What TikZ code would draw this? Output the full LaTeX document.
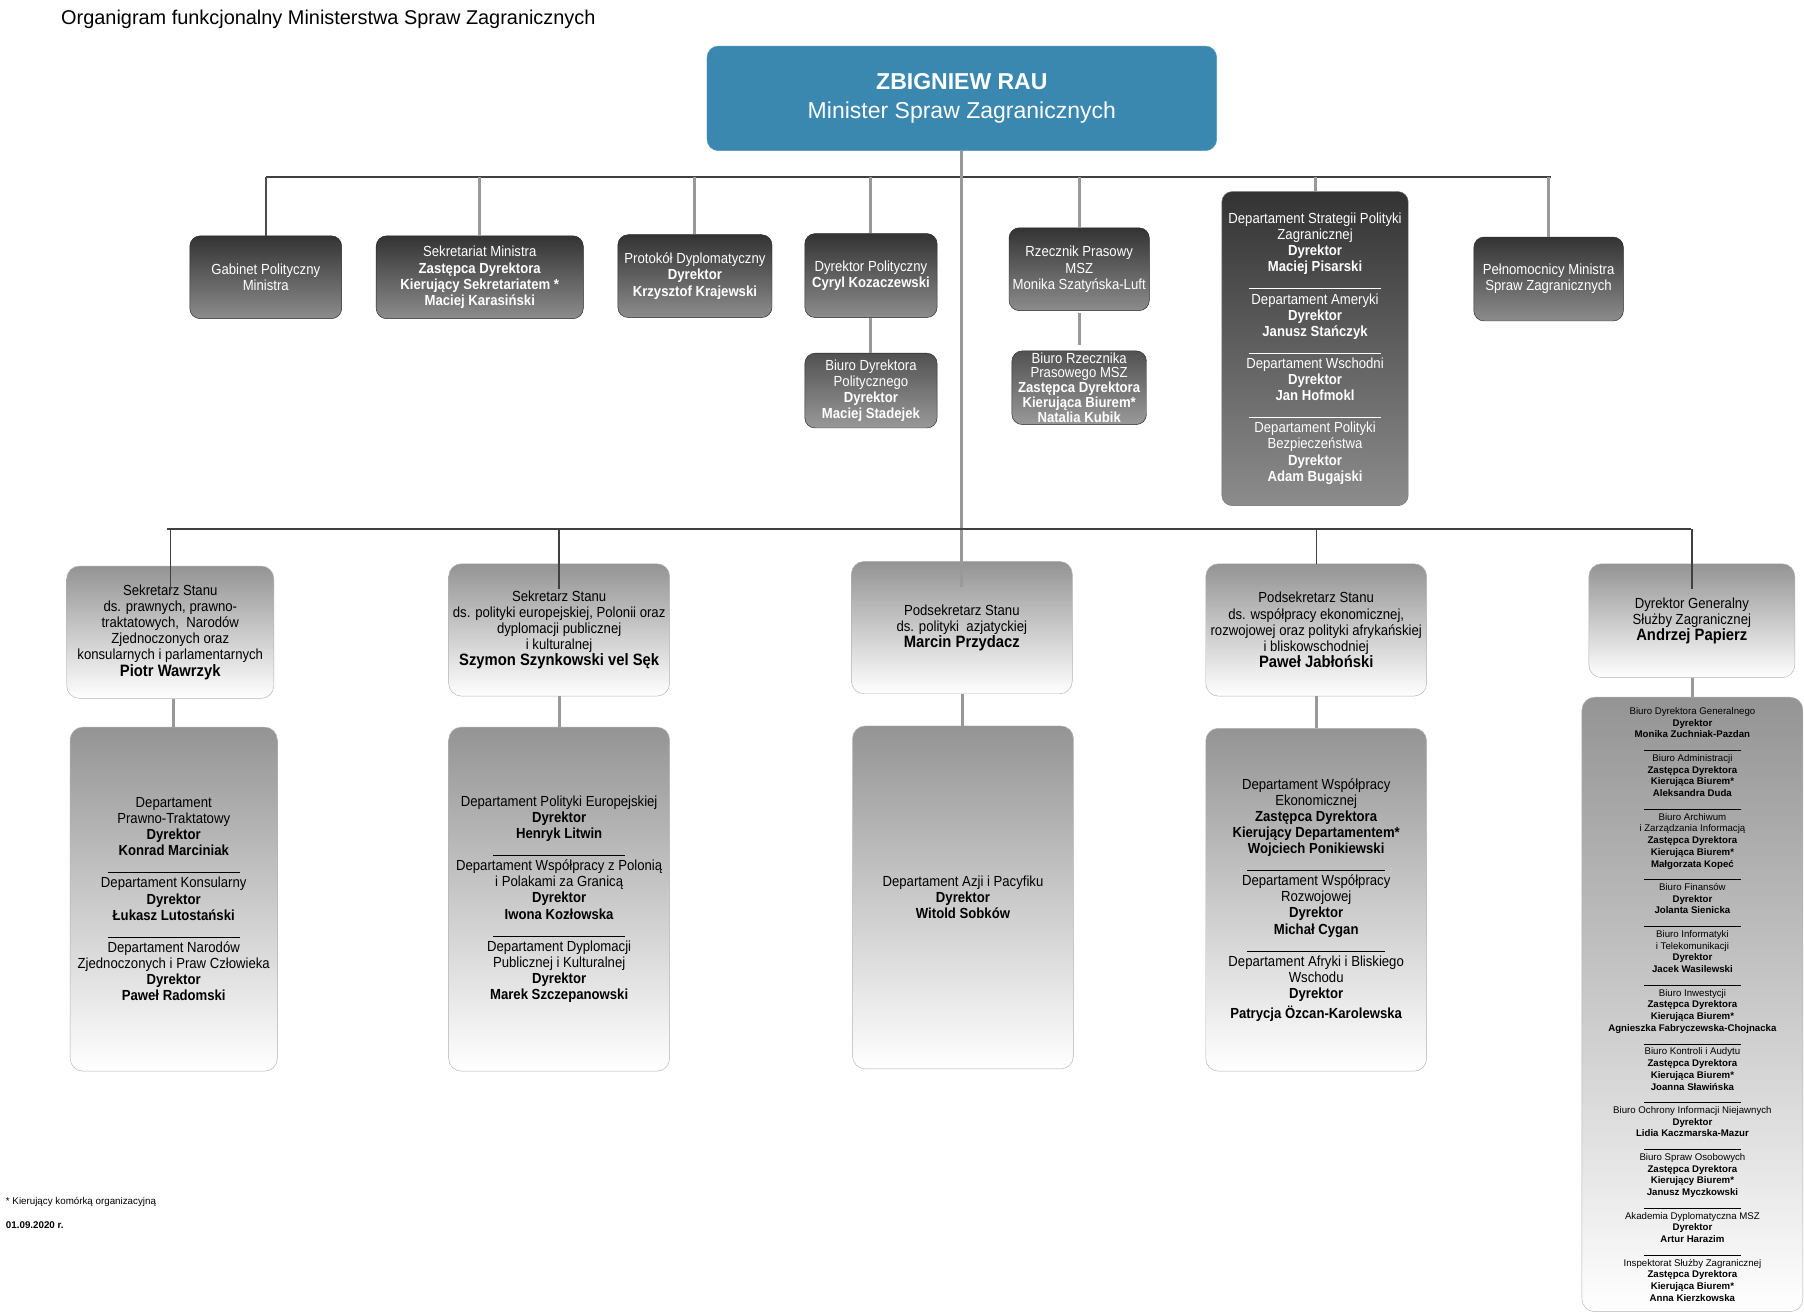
\documentclass[tikz,border=0pt]{standalone}
\usepackage{fontspec}
\setmainfont{Liberation Sans}
\newfontfamily\boxfont{Liberation Sans}[FakeStretch=0.9]
\definecolor{ministerblue}{HTML}{3A87B0}
\newcommand{\strich}[1][115pt]{\rule[-1pt]{#1}{0.6pt}}
\newcommand{\kopf}[1]{{\fontsize{14.3}{15}\selectfont\bfseries #1}}
\tikzset{
  minbox/.style={fill=ministerblue, draw=ministerblue!85!white, rounded corners=10pt, text=white, align=center, font=\fontsize{20}{25}\selectfont},
  topbox/.style={draw=black!85, rounded corners=9pt, top color=black!80, bottom color=black!45, text=white, align=center, inner sep=1pt, font=\boxfont\fontsize{12.7}{14}\selectfont},
  subbox/.style={topbox, top color=black!68, bottom color=black!40},
  headbox/.style={draw=black!30, rounded corners=11pt, top color=black!42, bottom color=white, text=black, align=center, inner sep=1pt, font=\boxfont\fontsize{12.7}{14}\selectfont},
  smallbox/.style={headbox, font=\fontsize{8.4}{10.2}\selectfont},
  bus/.style={draw=black!75, line width=1.6pt},
  stem/.style={draw=black!40, line width=2.6pt},
  darkstem/.style={draw=black!70, line width=2pt},
  thinstem/.style={draw=black!75, line width=1.2pt}
}
\begin{document}
\begin{tikzpicture}[x=1pt,y=-1pt]
  % 画像の範囲
  \useasboundingbox (0,0) rectangle (1568,1143);
  % 表題
  \node[anchor=base west, inner sep=0pt, font=\fontsize{17.3}{20}\selectfont] (titel) at (53,21) {Organigram funkcjonalny Ministerstwa Spraw Zagranicznych};
  % 大臣
  \node[minbox, minimum width=443pt, minimum height=91pt] (minister) at (836,85.5) {\textbf{ZBIGNIEW RAU}\\Minister Spraw Zagranicznych};
  % 上段の部署
  \node[topbox, minimum width=132pt, minimum height=72pt] (gabinet) at (231,241) {Gabinet Polityczny\\Ministra};
  \node[topbox, minimum width=180pt, minimum height=72pt] (sekretariat) at (417,241) {Sekretariat Ministra\\\textbf{Zastępca Dyrektora}\\\textbf{Kierujący Sekretariatem *}\\\textbf{Maciej Karasiński}};
  \node[topbox, minimum width=134pt, minimum height=72pt] (protokol) at (604,240) {Protokół Dyplomatyczny\\\textbf{Dyrektor}\\\textbf{Krzysztof Krajewski}};
  \node[topbox, minimum width=115pt, minimum height=73pt] (dyrpol) at (757,239.5) {Dyrektor Polityczny\\\textbf{Cyryl Kozaczewski}};
  \node[subbox, minimum width=115pt, minimum height=65pt] (biurodyrpol) at (757,339.5) {Biuro Dyrektora\\Politycznego\\\textbf{Dyrektor}\\\textbf{Maciej Stadejek}};
  \node[topbox, minimum width=122pt, minimum height=72pt] (rzecznik) at (938,234) {Rzecznik Prasowy\\MSZ\\Monika Szatyńska-Luft};
  \node[subbox, minimum width=117pt, minimum height=64pt, inner sep=0pt, font=\boxfont\fontsize{12.7}{13}\selectfont] (biurorzecznik) at (938,337) {Biuro Rzecznika\\Prasowego MSZ\\\textbf{Zastępca Dyrektora}\\\textbf{Kierująca Biurem*}\\\textbf{Natalia Kubik}};
  \node[topbox, draw=black!55, minimum width=162pt, minimum height=273pt] (strategia) at (1143,303) {Departament Strategii Polityki\\Zagranicznej\\\textbf{Dyrektor}\\\textbf{Maciej Pisarski}\\\strich\\Departament Ameryki\\\textbf{Dyrektor}\\\textbf{Janusz Stańczyk}\\\strich\\Departament Wschodni\\\textbf{Dyrektor}\\\textbf{Jan Hofmokl}\\\strich\\Departament Polityki\\Bezpieczeństwa\\\textbf{Dyrektor}\\\textbf{Adam Bugajski}};
  \node[topbox, minimum width=130pt, minimum height=73pt] (pelnomocnicy) at (1346,242.5) {Pełnomocnicy Ministra\\Spraw Zagranicznych};
  % 下段の長
  \node[headbox, minimum width=180pt, minimum height=115pt] (ss1) at (148,549.5) {Sekretarz Stanu\\ds. prawnych, prawno-\\traktatowych,\ \ Narodów\\Zjednoczonych oraz\\konsularnych i parlamentarnych\\\kopf{Piotr Wawrzyk}};
  \node[headbox, minimum width=192pt, minimum height=115pt] (ss2) at (486,547.5) {Sekretarz Stanu\\ds. polityki europejskiej, Polonii oraz\\dyplomacji publicznej\\i kulturalnej\\\kopf{Szymon Szynkowski vel Sęk}};
  \node[headbox, minimum width=192pt, minimum height=115pt] (ps1) at (836,545.5) {Podsekretarz Stanu\\ds. polityki\ \ azjatyckiej\\\kopf{Marcin Przydacz}};
  \node[headbox, minimum width=192pt, minimum height=115pt] (ps2) at (1144,547.5) {Podsekretarz Stanu\\ds. współpracy ekonomicznej,\\rozwojowej oraz polityki afrykańskiej\\i bliskowschodniej\\\kopf{Paweł Jabłoński}};
  \node[headbox, minimum width=179pt, minimum height=99pt] (dg) at (1470.5,539.5) {Dyrektor Generalny\\Służby Zagranicznej\\\kopf{Andrzej Papierz}};
  % 下段の部署
  \node[headbox, minimum width=180pt, minimum height=299pt] (dep1) at (151,781.5) {Departament\\Prawno-Traktatowy\\\textbf{Dyrektor}\\\textbf{Konrad Marciniak}\\\strich\\Departament Konsularny\\\textbf{Dyrektor}\\\textbf{Łukasz Lutostański}\\\strich\\Departament Narodów\\Zjednoczonych i Praw Człowieka\\\textbf{Dyrektor}\\\textbf{Paweł Radomski}};
  \node[headbox, minimum width=192pt, minimum height=299pt] (dep2) at (486,781.5) {Departament Polityki Europejskiej\\\textbf{Dyrektor}\\\textbf{Henryk Litwin}\\\strich\\Departament Współpracy z Polonią\\i Polakami za Granicą\\\textbf{Dyrektor}\\\textbf{Iwona Kozłowska}\\\strich\\Departament Dyplomacji\\Publicznej i Kulturalnej\\\textbf{Dyrektor}\\\textbf{Marek Szczepanowski}};
  \node[headbox, minimum width=192pt, minimum height=298pt] (dep3) at (837,780) {Departament Azji i Pacyfiku\\\textbf{Dyrektor}\\\textbf{Witold Sobków}};
  \node[headbox, minimum width=192pt, minimum height=298pt] (dep4) at (1144,782) {Departament Współpracy\\Ekonomicznej\\\textbf{Zastępca Dyrektora}\\\textbf{Kierujący Departamentem*}\\\textbf{Wojciech Ponikiewski}\\\strich[120pt]\\Departament Współpracy\\Rozwojowej\\\textbf{Dyrektor}\\\textbf{Michał Cygan}\\\strich[120pt]\\Departament Afryki i Bliskiego\\Wschodu\\\textbf{Dyrektor}\\[3pt]\textbf{Patrycja Özcan-Karolewska}};
  \node[smallbox, minimum width=192pt, minimum height=534pt] (dep5) at (1471,873) {Biuro Dyrektora Generalnego\\\textbf{Dyrektor}\\\textbf{Monika Zuchniak-Pazdan}\\\strich[84pt]\\Biuro Administracji\\\textbf{Zastępca Dyrektora}\\\textbf{Kierująca Biurem*}\\\textbf{Aleksandra Duda}\\\strich[84pt]\\Biuro Archiwum\\i Zarządzania Informacją\\\textbf{Zastępca Dyrektora}\\\textbf{Kierująca Biurem*}\\\textbf{Małgorzata Kopeć}\\\strich[84pt]\\Biuro Finansów\\\textbf{Dyrektor}\\\textbf{Jolanta Sienicka}\\\strich[84pt]\\Biuro Informatyki\\i Telekomunikacji\\\textbf{Dyrektor}\\\textbf{Jacek Wasilewski}\\\strich[84pt]\\Biuro Inwestycji\\\textbf{Zastępca Dyrektora}\\\textbf{Kierująca Biurem*}\\\textbf{Agnieszka Fabryczewska-Chojnacka}\\\strich[84pt]\\Biuro Kontroli i Audytu\\\textbf{Zastępca Dyrektora}\\\textbf{Kierująca Biurem*}\\\textbf{Joanna Sławińska}\\\strich[84pt]\\Biuro Ochrony Informacji Niejawnych\\\textbf{Dyrektor}\\\textbf{Lidia Kaczmarska-Mazur}\\\strich[84pt]\\Biuro Spraw Osobowych\\\textbf{Zastępca Dyrektora}\\\textbf{Kierujący Biurem*}\\\textbf{Janusz Myczkowski}\\\strich[84pt]\\Akademia Dyplomatyczna MSZ\\\textbf{Dyrektor}\\\textbf{Artur Harazim}\\\strich[84pt]\\Inspektorat Służby Zagranicznej\\\textbf{Zastępca Dyrektora}\\\textbf{Kierująca Biurem*}\\\textbf{Anna Kierzkowska}};
  % 上の横線と縦線
  \coordinate (busL) at (231,154);
  \coordinate (busR) at (1348,154);
  \draw[bus] (busL) -- (busR);
  \draw[darkstem] (gabinet.north |- busL) -- (gabinet.north);
  \foreach \n in {sekretariat,protokol,dyrpol,rzecznik,strategia,pelnomocnicy}
    \draw[stem] (\n.north |- busL) -- (\n.north);
  \draw[stem] (dyrpol.south) -- (biurodyrpol.north);
  \draw[stem, shorten <=2pt, shorten >=5pt] (rzecznik.south) -- (biurorzecznik.north);
  % 中央の縦線
  \draw[stem] (minister.south) -- ([yshift=-22pt]ps1.north);
  % 下の横線と縦線
  \coordinate (lbusL) at (145,460);
  \coordinate (lbusR) at (1470,460);
  \draw[bus, line width=1.3pt] (lbusL) -- (lbusR);
  \foreach \n in {ss1,ss2,dg}
    \draw[thinstem] (\n.north |- lbusL) -- ([yshift=-22pt]\n.north);
  \draw[thinstem] (ps2.north |- lbusL) -- (ps2.north);
  \draw[stem] (dep1.north |- ss1.south) -- (dep1.north);
  \draw[stem] (ss2.south) -- (dep2.north);
  \draw[stem] (dep3.north |- ps1.south) -- (dep3.north);
  \draw[stem] (ps2.south) -- (dep4.north);
  \draw[stem] (dep5.north |- dg.south) -- (dep5.north);
  % 注記と日付
  \node[anchor=base west, inner sep=0pt, font=\fontsize{8.5}{10}\selectfont] (fussnote) at (5,1047) {* Kierujący komórką organizacyjną};
  \node[anchor=base west, inner sep=0pt, font=\fontsize{8.5}{10}\selectfont\bfseries] (datum) at (5,1068) {01.09.2020 r.};
\end{tikzpicture}
\end{document}
